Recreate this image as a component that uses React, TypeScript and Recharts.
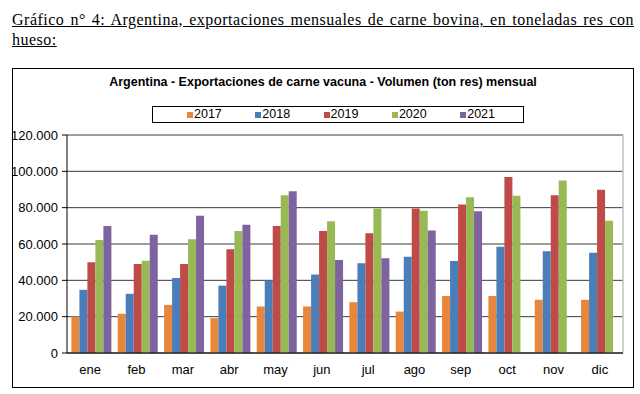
import React from 'react';
import { BarChart, Bar, XAxis, YAxis, CartesianGrid, ReferenceLine } from 'recharts';

const months = ['ene', 'feb', 'mar', 'abr', 'may', 'jun', 'jul', 'ago', 'sep', 'oct', 'nov', 'dic'];
const years = ['2017', '2018', '2019', '2020', '2021'];
const colors = ['#E8873C', '#4A7EBB', '#BE4B48', '#98B954', '#7F63A1'];

const v2017 = [20100, 21600, 26500, 19200, 25600, 25600, 28000, 22800, 31400, 31400, 29300, 29300];
const v2018 = [34800, 32600, 41300, 37100, 39900, 43200, 49400, 53000, 50700, 58500, 56000, 55200];
const v2019 = [50000, 49000, 49000, 57100, 69900, 67100, 65900, 79600, 81800, 96900, 86900, 89800];
const v2020 = [62200, 50800, 62600, 67100, 86900, 72500, 79600, 78300, 85800, 86500, 95000, 72800];
const v2021 = [69900, 65100, 75500, 70600, 89100, 51200, 52200, 67500, 78000, null, null, null];
const seriesValues = [v2017, v2018, v2019, v2020, v2021];

const yTicks = [0, 20000, 40000, 60000, 80000, 100000, 120000];
const boundaryTicks = [0, 1, 2, 3, 4, 5, 6, 7, 8, 9, 10, 11, 12];

const captionText =
  'Gráfico n° 4: Argentina, exportaciones mensuales de carne bovina, en toneladas res con hueso:';
const chartTitle = 'Argentina - Exportaciones de carne vacuna - Volumen (ton res) mensual';

const data = months.map((m, i) => {
  const row: any = { month: m, pos: i + 0.5 };
  years.forEach((y, k) => {
    row[y] = seriesValues[k][i];
  });
  return row;
});

const fmt = (v: number) => String(v).replace(/\B(?=(\d{3})+(?!\d))/g, '.');

const SANS = '"Liberation Sans", Arial, sans-serif';
const SERIF = '"Liberation Serif", "Times New Roman", serif';

export default function App() {
  return (
    <div style={{ position: 'absolute', left: 0, top: 0, width: 640, height: 394, background: '#fff', overflow: 'hidden' }}>
      <div
        style={{
          position: 'absolute',
          left: 12,
          top: 10,
          width: 622,
          fontFamily: SERIF,
          fontSize: 16,
          letterSpacing: 0.5,
          lineHeight: '20px',
          textAlign: 'justify',
          textDecoration: 'underline',
          color: '#000',
        }}
      >
        {captionText}
      </div>
      <div
        style={{
          position: 'absolute',
          left: 12,
          top: 68,
          width: 622,
          height: 320,
          boxSizing: 'border-box',
          border: '1px solid #000',
        }}
      />
      <div
        style={{
          position: 'absolute',
          left: 12,
          top: 75,
          width: 622,
          textAlign: 'center',
          fontFamily: SANS,
          fontWeight: 'bold',
          fontSize: 12.5,
          lineHeight: '15px',
          color: '#000',
          whiteSpace: 'nowrap',
        }}
      >
        {chartTitle}
      </div>
      <div
        style={{
          position: 'absolute',
          left: 152,
          top: 106,
          width: 372,
          height: 17,
          boxSizing: 'border-box',
          border: '1px solid #000',
          display: 'flex',
          alignItems: 'center',
          paddingLeft: 34,
          fontFamily: SANS,
          fontSize: 12.5,
          color: '#000',
        }}
      >
        {years.map((y, k) => (
          <div key={y} style={{ width: 68.3, display: 'flex', alignItems: 'center', flex: 'none' }}>
            <span style={{ display: 'inline-block', width: 6, height: 6, background: colors[k], marginRight: 1 }} />
            <span style={{ lineHeight: '15px' }}>{y}</span>
          </div>
        ))}
      </div>
      <div style={{ position: 'absolute', left: 0, top: 0 }}>
        <BarChart
          width={640}
          height={394}
          data={data}
          margin={{ top: 135, right: 17, bottom: 0, left: 0 }}
          barCategoryGap="9.5%"
          barGap={0}
        >
          <CartesianGrid xAxisId="c" vertical={false} stroke="#3a3a3a" strokeWidth={1} />
          <XAxis
            xAxisId="b"
            dataKey="pos"
            type="number"
            domain={[0, 12]}
            ticks={boundaryTicks}
            allowDataOverflow
            tick={false}
            tickSize={5}
            height={1}
            axisLine={{ stroke: '#000' }}
            tickLine={{ stroke: '#000' }}
          />
          <XAxis
            xAxisId="c"
            dataKey="month"
            height={40}
            tickSize={0}
            tickLine={false}
            axisLine={false}
            tickMargin={11}
            interval={0}
            tick={{ fill: '#000', fontSize: 13, fontFamily: SANS }}
          />
          <YAxis
            domain={[0, 120000]}
            ticks={yTicks}
            interval={0}
            tickFormatter={fmt}
            width={67}
            tickSize={5}
            tickMargin={4}
            axisLine={{ stroke: '#000' }}
            tickLine={{ stroke: '#000' }}
            tick={{ fill: '#000', fontSize: 13, fontFamily: SANS }}
          />
          <ReferenceLine xAxisId="b" x={12} stroke="#c0c0c0" strokeWidth={1.5} />
          {years.map((y, k) => (
            <Bar key={y} xAxisId="c" dataKey={y} name={y} fill={colors[k]} isAnimationActive={false} />
          ))}
        </BarChart>
      </div>
    </div>
  );
}
